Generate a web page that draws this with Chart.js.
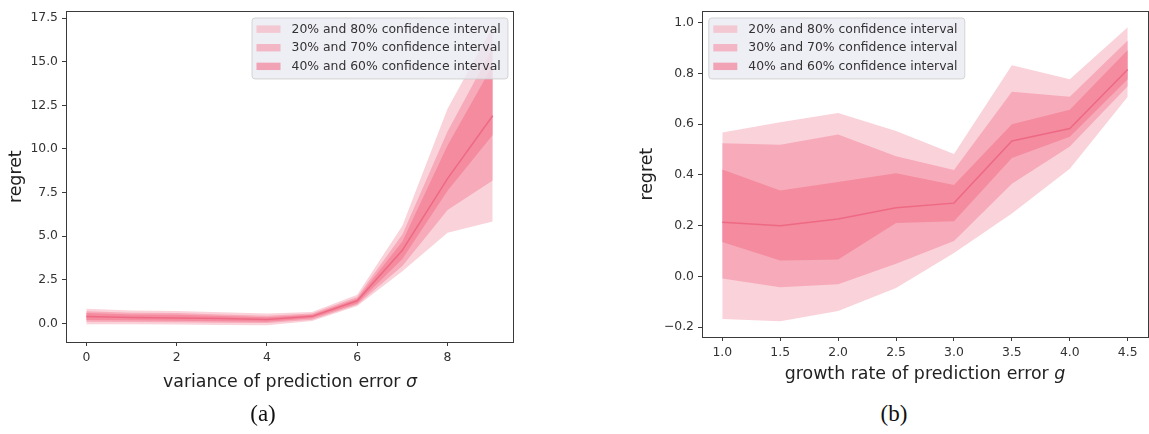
<!DOCTYPE html>
<html>
<head>
<meta charset="utf-8">
<script src="https://cdn.jsdelivr.net/npm/chart.js@4.4.1/dist/chart.umd.min.js"></script>
<style>
  body { margin: 0; background: #fff; width: 1149px; height: 434px; position: relative; overflow: hidden; }
  canvas { position: absolute; top: 0; }
  #chartA { left: 0; }
  #chartB { left: 620px; }
  .xtitle { position: absolute; font-family: 'DejaVu Sans'; font-size: 17.4px; color: #222; white-space: nowrap; transform: translateX(-50%); line-height: 20px; }
  .caption { position: absolute; font-family: 'Liberation Serif'; font-size: 23px; color: #111; transform: translateX(-50%); line-height: 26px; }
</style>
</head>
<body>
<canvas id="chartA" width="530" height="400"></canvas>
<canvas id="chartB" width="529" height="400"></canvas>
<div class="xtitle" style="left:290px; top:371px">variance of prediction error <i>σ</i></div>
<div class="xtitle" style="left:925px; top:363px">growth rate of prediction error <i>g</i></div>
<div class="caption" style="left:263px; top:401px">(a)</div>
<div class="caption" style="left:894px; top:401px">(b)</div>
<script>
// (a) regret vs variance of prediction error
const sigma = [0, 1, 2, 3, 4, 5, 6, 7, 8, 9];
const medianA = [0.40, 0.35, 0.32, 0.28, 0.23, 0.41, 1.30, 4.20, 8.30, 11.9];
const lo20A = [-0.05, -0.05, -0.06, -0.08, -0.10, 0.15, 1.00, 3.00, 5.20, 5.85];
const hi20A = [0.85, 0.75, 0.72, 0.65, 0.57, 0.66, 1.65, 5.60, 12.3, 17.0];
const lo30A = [0.10, 0.08, 0.07, 0.05, 0.03, 0.22, 1.08, 3.30, 6.50, 8.20];
const hi30A = [0.70, 0.62, 0.60, 0.52, 0.45, 0.58, 1.52, 5.10, 11.0, 15.8];
const lo40A = [0.20, 0.18, 0.16, 0.13, 0.10, 0.30, 1.15, 3.70, 7.60, 10.8];
const hi40A = [0.60, 0.52, 0.50, 0.43, 0.36, 0.50, 1.42, 4.70, 10.2, 14.8];
const xTicksA = [0, 2, 4, 6, 8];
const yTicksA = [0, 2.5, 5, 7.5, 10, 12.5, 15, 17.5];

// (b) regret vs growth rate of prediction error
const growth = [1.0, 1.5, 2.0, 2.5, 3.0, 3.5, 4.0, 4.5];
const medianB = [0.214, 0.200, 0.226, 0.271, 0.289, 0.534, 0.583, 0.816];
const lo20B = [-0.168, -0.177, -0.136, -0.046, 0.092, 0.248, 0.425, 0.709];
const hi20B = [0.568, 0.608, 0.644, 0.573, 0.483, 0.833, 0.778, 0.983];
const lo30B = [-0.008, -0.043, -0.031, 0.050, 0.140, 0.365, 0.512, 0.750];
const hi30B = [0.525, 0.519, 0.560, 0.474, 0.420, 0.728, 0.709, 0.930];
const lo40B = [0.136, 0.063, 0.067, 0.211, 0.218, 0.467, 0.551, 0.778];
const hi40B = [0.422, 0.339, 0.372, 0.407, 0.360, 0.600, 0.657, 0.893];
const xTicksB = [1.0, 1.5, 2.0, 2.5, 3.0, 3.5, 4.0, 4.5];
const yTicksB = [-0.2, 0, 0.2, 0.4, 0.6, 0.8, 1.0];

const bandLabels = ['20% and 80% confidence interval', '30% and 70% confidence interval', '40% and 60% confidence interval'];
const bandColors = ['#FAD2DA', '#F7AAB9', '#F48B9F'];   // 20/80, 30/70, 40/60 as seen on the plot
const swatchColors = ['#F3C8D2', '#F2B6C4', '#F1A3B5'];
const lineColor = '#EE6A84';
const inkColor = '#333';
const fontFamily = "'DejaVu Sans', sans-serif";

function pts(xs, ys) {
  return xs.map((x, i) => ({ x: x, y: ys[i] }));
}

function fmt(v) {
  if (Math.abs(v) < 1e-9) v = 0;
  return v.toFixed(1).replace('-', '\u2212');
}

function band(xs, lo, hi, color) {
  return [
    { data: pts(xs, hi), fill: '+1', backgroundColor: color, borderColor: 'rgba(0,0,0,0)', borderWidth: 0, pointRadius: 0 },
    { data: pts(xs, lo), fill: false, borderColor: 'rgba(0,0,0,0)', borderWidth: 0, pointRadius: 0 }
  ];
}

const axesBox = {
  id: 'axesBox',
  afterDatasetsDraw(chart) {
    const { ctx, chartArea: a } = chart;
    ctx.save();
    ctx.strokeStyle = '#3a3a3a';
    ctx.lineWidth = 1;
    ctx.strokeRect(Math.round(a.left) + 0.5, Math.round(a.top) + 0.5, Math.round(a.right - a.left), Math.round(a.bottom - a.top));
    ctx.restore();
  }
};

const legendBox = {
  id: 'legendBox',
  afterDraw(chart, args, opts) {
    const { ctx, chartArea: a } = chart;
    const w = 256, h = 61;
    const x = opts.side === 'right' ? a.right - 5.5 - w : a.left + 6.3;
    const y = a.top + 6;
    ctx.save();
    ctx.beginPath();
    ctx.roundRect(x + 0.5, y + 0.5, w, h, 3);
    ctx.fillStyle = 'rgba(234,234,242,0.8)';
    ctx.fill();
    ctx.strokeStyle = 'rgba(204,204,204,0.8)';
    ctx.lineWidth = 1;
    ctx.stroke();
    ctx.font = '12.4px ' + fontFamily;
    ctx.textBaseline = 'middle';
    bandLabels.forEach((label, i) => {
      const cy = y + 11.7 + i * 18.6;
      ctx.fillStyle = swatchColors[i];
      ctx.fillRect(x + 5, cy - 3.7, 24, 7.4);
      ctx.fillStyle = inkColor;
      ctx.fillText(label, x + 40, cy + 0.5);
    });
    ctx.restore();
  }
};

function makeChart(id, xs, median, lo20, hi20, lo30, hi30, lo40, hi40, xr, yr, xTicks, yTicks, geo) {
  const datasets = [
    { data: pts(xs, median), fill: false, borderColor: lineColor, borderWidth: 1.5, pointRadius: 0 }
  ].concat(band(xs, lo40, hi40, bandColors[2]), band(xs, lo30, hi30, bandColors[1]), band(xs, lo20, hi20, bandColors[0]));

  return new Chart(document.getElementById(id), {
    type: 'line',
    data: { datasets: datasets },
    options: {
      responsive: false,
      animation: false,
      devicePixelRatio: 1,
      layout: { padding: { top: geo.top, right: geo.right, left: 0, bottom: 0 } },
      plugins: {
        legend: { display: false },
        tooltip: { enabled: false },
        legendBox: { side: geo.legend }
      },
      scales: {
        x: {
          type: 'linear',
          min: xr[0],
          max: xr[1],
          afterBuildTicks: s => { s.ticks = xTicks.map(v => ({ value: v })); },
          afterFit: s => { s.height = geo.xh; },
          border: { display: false },
          grid: { drawOnChartArea: false, drawTicks: true, tickLength: 4, color: '#3a3a3a' },
          ticks: { color: inkColor, font: { family: fontFamily, size: 12.4 }, padding: 4, maxRotation: 0, callback: v => fmt(v).replace(/\.0$/, geo.xInt ? '' : '.0') }
        },
        y: {
          type: 'linear',
          min: yr[0],
          max: yr[1],
          afterBuildTicks: s => { s.ticks = yTicks.map(v => ({ value: v })); },
          afterFit: s => { s.width = geo.yw; },
          border: { display: false },
          grid: { drawOnChartArea: false, drawTicks: true, tickLength: 4, color: '#3a3a3a' },
          ticks: { color: inkColor, font: { family: fontFamily, size: 12.4 }, padding: 4, callback: v => fmt(v) },
          title: { display: true, text: 'regret', color: '#222', font: { family: fontFamily, size: 17.4 }, padding: { top: geo.titlePad, bottom: 0 } }
        }
      }
    },
    plugins: [axesBox, legendBox]
  });
}

makeChart('chartA', sigma, medianA, lo20A, hi20A, lo30A, hi30A, lo40A, hi40A,
  [-0.45, 9.45], [-1.06, 17.88], xTicksA, yTicksA,
  { top: 8, right: 17, xh: 58, yw: 66, titlePad: 6, legend: 'right', xInt: true });

makeChart('chartB', growth, medianB, lo20B, hi20B, lo30B, hi30B, lo40B, hi40B,
  [0.825, 4.675], [-0.239, 1.045], xTicksB, yTicksB,
  { top: 3, right: 1, xh: 63, yw: 82, titlePad: 17, legend: 'left', xInt: false });
</script>
</body>
</html>
